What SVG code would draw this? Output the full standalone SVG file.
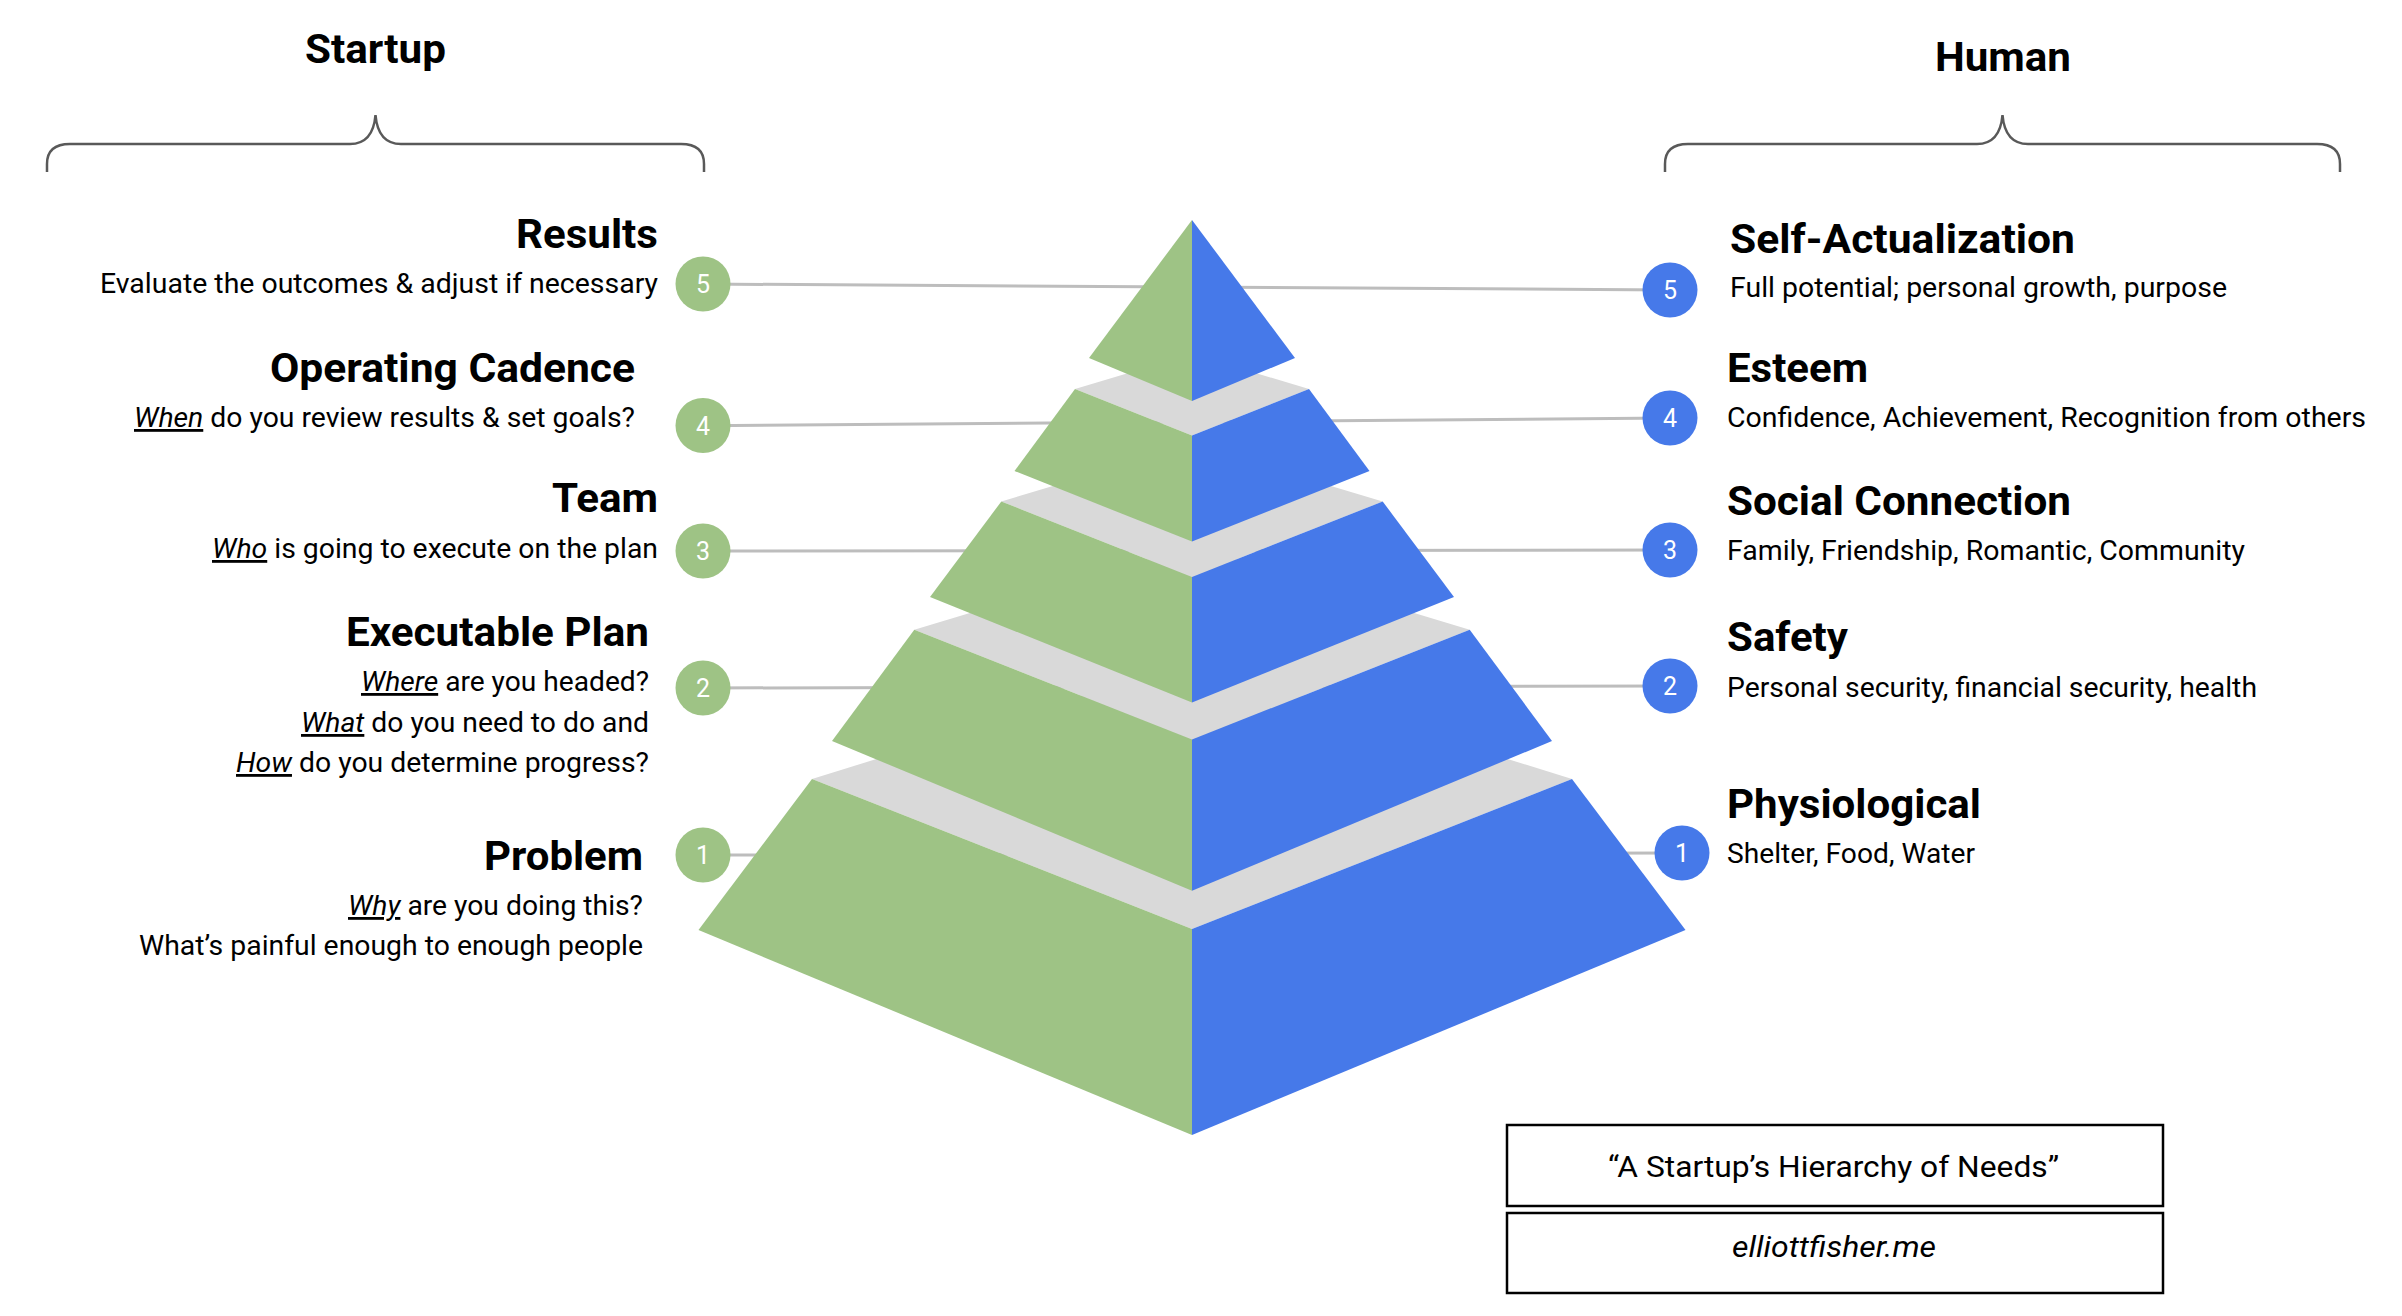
<svg xmlns="http://www.w3.org/2000/svg" width="2402" height="1316" viewBox="0 0 2402 1316">
<style>
text{font-family:Roboto,"Liberation Sans",sans-serif;fill:#000}
.h{font-weight:bold;font-size:40px}
.hh{font-weight:bold;font-size:41px}
.s{font-size:28px}
.u{font-style:italic;text-decoration:underline}
.num{font-size:25px;fill:#fff;text-anchor:middle}
.g{fill:#9EC385}
.b{fill:#4679E9}
.gr{fill:#D9D9D9}
.brace{fill:none;stroke:#595959;stroke-width:2.5}
.conn{stroke:#BDBDBD;stroke-width:3}
.box{fill:#fff;stroke:#000;stroke-width:2.5}
</style>
<rect width="2402" height="1316" fill="#fff"/>
<g id="startup-header">
<text class="hh" x="305" y="63" textLength="141" lengthAdjust="spacingAndGlyphs">Startup</text>
<path class="brace" d="M47,172 L47,164 Q47,144 70,144 L350,144 Q373,144 375.5,115 Q378,144 401,144 L681,144 Q704,144 704,164 L704,172"/>
</g>
<g id="human-header">
<text class="hh" x="1935" y="71" textLength="136" lengthAdjust="spacingAndGlyphs">Human</text>
<path class="brace" d="M1665,172 L1665,164 Q1665,144 1688,144 L1977,144 Q2000,144 2002.5,115 Q2005,144 2028,144 L2317,144 Q2340,144 2340,164 L2340,172"/>
</g>
<g id="connectors">
<line class="conn" x1="703" y1="284" x2="1670" y2="290"/>
<line class="conn" x1="703" y1="425.7" x2="1670" y2="418"/>
<line class="conn" x1="703" y1="551" x2="1670" y2="550"/>
<line class="conn" x1="703" y1="688" x2="1670" y2="686"/>
<line class="conn" x1="703" y1="855" x2="1682" y2="853"/>
</g>
<g id="pyramid">
<g id="tier1">
<polygon class="gr" points="812,779 1192,661 1572,779 1192,929"/>
<polygon class="g" points="812,779 698.5,930 1192,1135 1192,929"/>
<polygon class="b" points="1572,779 1685.5,930 1192,1135 1192,929"/>
</g>
<g id="tier2">
<polygon class="gr" points="914.3,629.7 1192,546 1469.7,629.7 1192,739.5"/>
<polygon class="g" points="914.3,629.7 832,741 1192,890.7 1192,739.5"/>
<polygon class="b" points="1469.7,629.7 1552,741 1192,890.7 1192,739.5"/>
</g>
<g id="tier3">
<polygon class="gr" points="1001.3,501.5 1192,444.5 1382.7,501.5 1192,577"/>
<polygon class="g" points="1001.3,501.5 930,597 1192,702.4 1192,577"/>
<polygon class="b" points="1382.7,501.5 1454,597 1192,702.4 1192,577"/>
</g>
<g id="tier4">
<polygon class="gr" points="1075,389 1192,354 1309,389 1192,435.6"/>
<polygon class="g" points="1075,389 1014.5,471 1192,541.6 1192,435.6"/>
<polygon class="b" points="1309,389 1369.5,471 1192,541.6 1192,435.6"/>
</g>
<g id="tier5">
<polygon class="g" points="1192,220 1089,358 1192,401"/>
<polygon class="b" points="1192,220 1295,358 1192,401"/>
</g>
</g>
<g id="startup-5">
<text class="h" x="516" y="248" textLength="142" lengthAdjust="spacingAndGlyphs">Results</text>
<text class="s" x="100" y="293" textLength="558" lengthAdjust="spacingAndGlyphs">Evaluate the outcomes &amp; adjust if necessary</text>
<circle class="g" cx="703" cy="284" r="27.5"/>
<text class="num" x="703" y="293">5</text>
</g>
<g id="startup-4">
<text class="h" x="270" y="382" textLength="365" lengthAdjust="spacingAndGlyphs">Operating Cadence</text>
<text class="s" x="134" y="427" textLength="501" lengthAdjust="spacingAndGlyphs"><tspan class="u">When</tspan> do you review results &amp; set goals?</text>
<circle class="g" cx="703" cy="425.5" r="27.5"/>
<text class="num" x="703" y="434.5">4</text>
</g>
<g id="startup-3">
<text class="h" x="552" y="512" textLength="106" lengthAdjust="spacingAndGlyphs">Team</text>
<text class="s" x="212" y="558" textLength="446" lengthAdjust="spacingAndGlyphs"><tspan class="u">Who</tspan> is going to execute on the plan</text>
<circle class="g" cx="703" cy="551" r="27.5"/>
<text class="num" x="703" y="560">3</text>
</g>
<g id="startup-2">
<text class="h" x="346" y="646" textLength="303" lengthAdjust="spacingAndGlyphs">Executable Plan</text>
<text class="s" x="361" y="691" textLength="288" lengthAdjust="spacingAndGlyphs"><tspan class="u">Where</tspan> are you headed?</text>
<text class="s" x="301" y="732" textLength="348" lengthAdjust="spacingAndGlyphs"><tspan class="u">What</tspan> do you need to do and</text>
<text class="s" x="236" y="772" textLength="413" lengthAdjust="spacingAndGlyphs"><tspan class="u">How</tspan> do you determine progress?</text>
<circle class="g" cx="703" cy="688" r="27.5"/>
<text class="num" x="703" y="697">2</text>
</g>
<g id="startup-1">
<text class="h" x="484" y="870" textLength="159" lengthAdjust="spacingAndGlyphs">Problem</text>
<text class="s" x="348" y="915" textLength="295" lengthAdjust="spacingAndGlyphs"><tspan class="u">Why</tspan> are you doing this?</text>
<text class="s" x="139" y="955" textLength="504" lengthAdjust="spacingAndGlyphs">What’s painful enough to enough people</text>
<circle class="g" cx="703" cy="855" r="27.5"/>
<text class="num" x="703" y="864">1</text>
</g>
<g id="human-5">
<circle class="b" cx="1670" cy="290" r="27.5"/>
<text class="num" x="1670" y="299">5</text>
<text class="h" x="1730" y="253" textLength="345" lengthAdjust="spacingAndGlyphs">Self-Actualization</text>
<text class="s" x="1730" y="297" textLength="497" lengthAdjust="spacingAndGlyphs">Full potential; personal growth, purpose</text>
</g>
<g id="human-4">
<circle class="b" cx="1670" cy="418" r="27.5"/>
<text class="num" x="1670" y="427">4</text>
<text class="h" x="1727" y="382" textLength="141" lengthAdjust="spacingAndGlyphs">Esteem</text>
<text class="s" x="1727" y="427" textLength="639" lengthAdjust="spacingAndGlyphs">Confidence, Achievement, Recognition from others</text>
</g>
<g id="human-3">
<circle class="b" cx="1670" cy="550" r="27.5"/>
<text class="num" x="1670" y="559">3</text>
<text class="h" x="1727" y="515" textLength="344" lengthAdjust="spacingAndGlyphs">Social Connection</text>
<text class="s" x="1727" y="560" textLength="518" lengthAdjust="spacingAndGlyphs">Family, Friendship, Romantic, Community</text>
</g>
<g id="human-2">
<circle class="b" cx="1670" cy="686" r="27.5"/>
<text class="num" x="1670" y="695">2</text>
<text class="h" x="1727" y="651" textLength="121" lengthAdjust="spacingAndGlyphs">Safety</text>
<text class="s" x="1727" y="697" textLength="530" lengthAdjust="spacingAndGlyphs">Personal security, financial security, health</text>
</g>
<g id="human-1">
<circle class="b" cx="1682" cy="853" r="27.5"/>
<text class="num" x="1682" y="862">1</text>
<text class="h" x="1727" y="818" textLength="254" lengthAdjust="spacingAndGlyphs">Physiological</text>
<text class="s" x="1727" y="863" textLength="248" lengthAdjust="spacingAndGlyphs">Shelter, Food, Water</text>
</g>
<g id="title-box">
<rect class="box" x="1507" y="1125" width="656" height="81"/>
<rect class="box" x="1507" y="1213" width="656" height="80"/>
<text x="1608" y="1177" font-size="30" textLength="451" lengthAdjust="spacingAndGlyphs">“A Startup’s Hierarchy of Needs”</text>
<text x="1732" y="1257" font-size="30" font-style="italic" textLength="204" lengthAdjust="spacingAndGlyphs">elliottfisher.me</text>
</g>
</svg>
